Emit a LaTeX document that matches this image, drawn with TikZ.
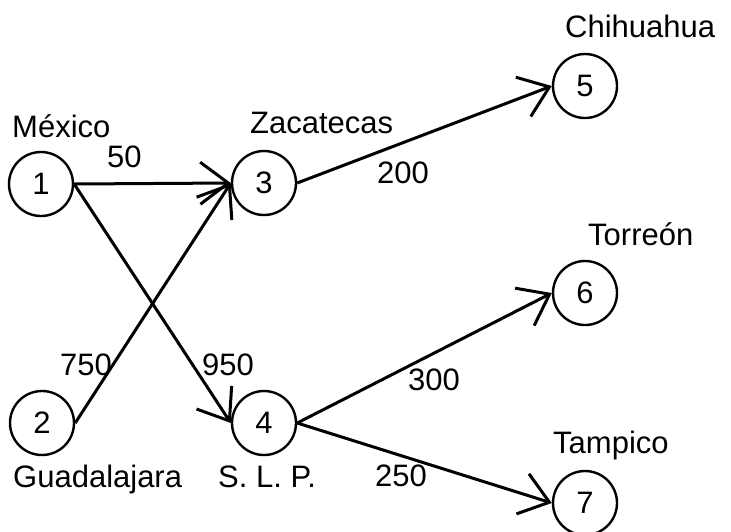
\documentclass[tikz,border=0pt]{standalone}
\usepackage{fontspec}
\setmainfont{Liberation Sans}
\usetikzlibrary{arrows.meta}
\begin{document}
\begin{tikzpicture}[x=1pt,y=-1pt,
  city/.style={circle,draw,line width=2.4pt,minimum size=64pt,inner sep=0pt,font=\fontsize{31}{36}\selectfont},
  lbl/.style={anchor=base west,inner sep=0pt,font=\fontsize{31}{36}\selectfont},
  edge/.style={line width=3pt,-{Straight Barb[length=28pt,width=42pt,line width=3pt]}}]
\useasboundingbox (0,0) rectangle (731,531);
\node[city] (n1) at (41,184) {1};
\node[city] (n2) at (42,423) {2};
\node[city] (n3) at (264,183) {3};
\node[city] (n4) at (264,423) {4};
\node[city] (n5) at (585,86) {5};
\node[city] (n6) at (585,293) {6};
\node[city] (n7) at (585,503) {7};
\node[lbl] (l1) at (12,137) {México};
\node[lbl] (l3) at (250,133) {Zacatecas};
\node[lbl] (l5) at (565,37) {Chihuahua};
\node[lbl] (l6) at (588,245) {Torreón};
\node[lbl] (l7) at (553,453) {Tampico};
\node[lbl] (l2) at (13,487) {Guadalajara};
\node[lbl] (l4) at (218,487) {S. L. P.};
\node[lbl] (w13) at (107,167) {50};
\node[lbl] (w35) at (377,183) {200};
\node[lbl] (w23) at (60,375) {750};
\node[lbl] (w14) at (202,375) {950};
\node[lbl] (w46) at (408,390) {300};
\node[lbl] (w47) at (375,486) {250};
\draw[edge] (n1.east) -- (n3.west);
\draw[edge] (n1.east) -- (n4.west);
\draw[edge] (n2.east) -- (n3.west);
\draw[edge] (n3.east) -- (n5.west);
\draw[edge] (n4.east) -- (n6.west);
\draw[edge] (n4.east) -- (n7.west);
\end{tikzpicture}
\end{document}
